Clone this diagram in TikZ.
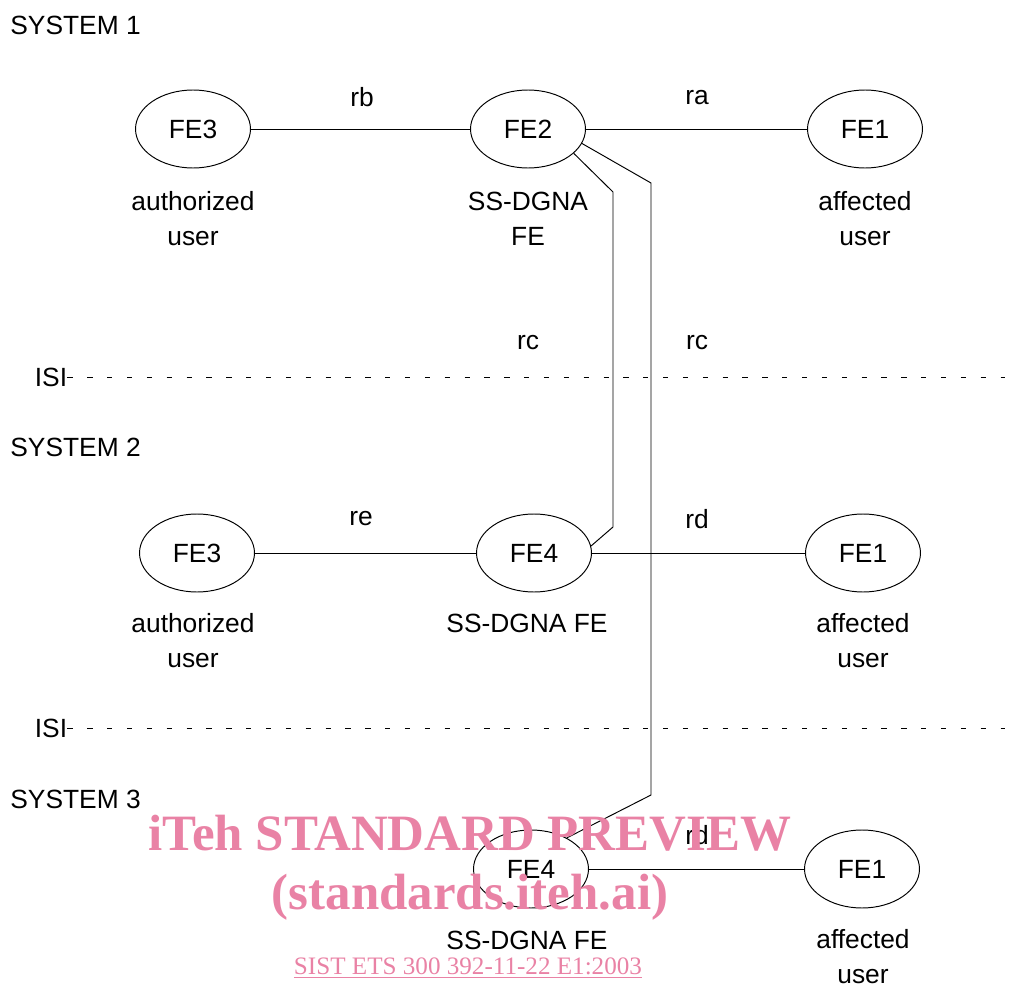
\documentclass[tikz,border=0pt]{standalone}
\usepackage{fontspec}
\setmainfont{Liberation Sans}
\newfontfamily\wmfont{Liberation Serif}
\usetikzlibrary{shapes.geometric}
\definecolor{wmpink}{RGB}{233,130,165}

\begin{document}
\begin{tikzpicture}[
    x=0.02cm, y=-0.02cm,
    every node/.style={font=\fontsize{15}{19.8}\selectfont, inner sep=0pt},
    fe/.style={draw, ellipse, line width=0.55pt, minimum width=2.3cm, minimum height=1.56cm},
    role/.style={align=center},
    link/.style={line width=0.55pt},
    isi/.style={line width=0.5pt, dash pattern=on 3pt off 8.3pt},
    wm/.style={text=wmpink, font=\wmfont\bfseries\fontsize{29}{30}\selectfont}
  ]
  \useasboundingbox (0,0) rectangle (1009,987);

  % system 1
  \node[anchor=west] (sys1) at (10,25) {SYSTEM 1};
  \node[fe] (s1fe3) at (193,129) {FE3};
  \node[fe] (s1fe2) at (528,129) {FE2};
  \node[fe] (s1fe1) at (865,129) {FE1};
  \node[role] (s1auth) at (193,218.5) {authorized\\user};
  \node[role] (s1dgna) at (528,218.5) {SS-DGNA\\FE};
  \node[role] (s1aff) at (865,218.5) {affected\\user};
  \node (rb) at (362,97) {rb};
  \node (ra) at (697,98) {ra};
  \draw[link] (s1fe3) -- (s1fe2);
  \draw[link] (s1fe2) -- (s1fe1);

  % system 2
  \node[anchor=west] (sys2) at (10,447) {SYSTEM 2};
  \node[fe] (s2fe3) at (197,553) {FE3};
  \node[fe] (s2fe4) at (534,553) {FE4};
  \node[fe] (s2fe1) at (863,553) {FE1};
  \node[role] (s2auth) at (193,640.5) {authorized\\user};
  \node[role] (s2dgna) at (527,623) {SS-DGNA FE};
  \node[role] (s2aff) at (863,640.5) {affected\\user};
  \node (re) at (361,519) {re};
  \node (rd2) at (697,519) {rd};
  \draw[link] (s2fe3) -- (s2fe4);
  \draw[link] (s2fe4) -- (s2fe1);

  % system 3
  \node[anchor=west] (sys3) at (10,799) {SYSTEM 3};
  \node[fe] (s3fe4) at (531,869) {FE4};
  \node[fe] (s3fe1) at (862,869) {FE1};
  \node[role] (s3dgna) at (527,940) {SS-DGNA FE};
  \node[role] (s3aff) at (863,956.5) {affected\\user};
  \node (rd3) at (697,835) {rd};
  \draw[link] (s3fe4) -- (s3fe1);

  % ISI boundaries
  \foreach \y in {377,728} {
    \node (isi\y) at (51,\y) {ISI};
    \coordinate (isiend\y) at (1005,\y);
    \draw[isi] (isi\y.east) -- (isiend\y);
  }

  % rc links between systems
  \node (rc1) at (528,343) {rc};
  \node (rc2) at (697,343) {rc};
  \coordinate (rc1top) at (613,192);
  \coordinate (rc1bot) at (613,527);
  \coordinate (rc2top) at (651,183);
  \coordinate (rc2bot) at (651,795);
  \draw[link] (s1fe2.-28) -- (rc1top) -- (rc1bot) -- (s2fe4.7);
  \draw[link] (s1fe2.-15) -- (rc2top) -- (rc2bot) -- (s3fe4.41);

  % watermark
  \node[wm] (wm1) at (470,833) {iTeh STANDARD PREVIEW};
  \node[wm] (wm2) at (470,897) {(standards.iteh.ai)};
  \node[text=wmpink, font=\wmfont\fontsize{14.3}{16}\selectfont] (wm3) at (468,968) {\underline{SIST ETS 300 392-11-22 E1:2003}};
\end{tikzpicture}
\end{document}
